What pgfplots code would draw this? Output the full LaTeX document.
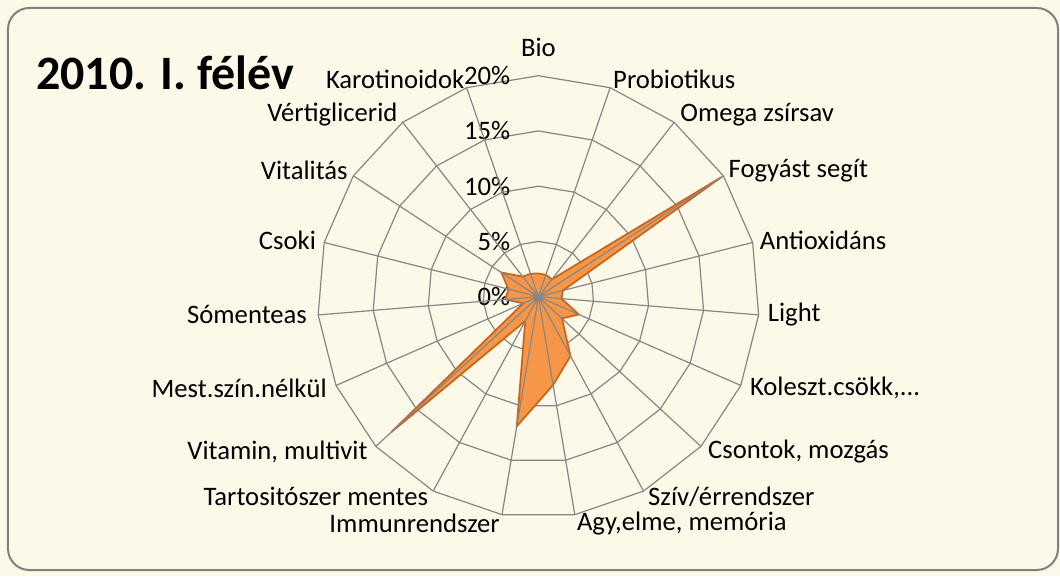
\documentclass[border=0pt]{standalone}
\usepackage{pgfplots}
\pgfplotsset{compat=1.18}
\usepackage{pgfplotstable}
\usepgfplotslibrary{polar}
\usetikzlibrary{backgrounds}
\usepackage{fontspec}
\setmainfont{Carlito}
\definecolor{bgc}{RGB}{253,249,233}
\definecolor{framec}{RGB}{128,128,128}
\definecolor{gridc}{RGB}{134,134,134}
\definecolor{serfill}{RGB}{247,150,70}
\definecolor{serdraw}{RGB}{200,100,30}
\newcommand\lab{\fontsize{20}{24}\selectfont}

% angle (degrees, counter-clockwise from east) and share in percent
\pgfplotstableread{
angle value
90 2.1
71.053 2.1
52.105 2.0
33.158 19.8
14.211 2.3
-4.737 2.1
-23.684 4.0
-42.632 2.9
-61.579 6.1
-80.526 8.1
-99.474 11.9
-118.421 2.5
-137.368 18.1
-156.316 1.5
-175.263 3.0
-194.211 2.8
-213.158 4.0
-232.105 2.3
-251.053 2.2
-270 2.1
}\datatable

\pgfplotstableread{
angle r5 r10 r15 r20
90 5 10 15 20
71.053 5 10 15 20
52.105 5 10 15 20
33.158 5 10 15 20
14.211 5 10 15 20
-4.737 5 10 15 20
-23.684 5 10 15 20
-42.632 5 10 15 20
-61.579 5 10 15 20
-80.526 5 10 15 20
-99.474 5 10 15 20
-118.421 5 10 15 20
-137.368 5 10 15 20
-156.316 5 10 15 20
-175.263 5 10 15 20
-194.211 5 10 15 20
-213.158 5 10 15 20
-232.105 5 10 15 20
-251.053 5 10 15 20
-270 5 10 15 20
}\ringtable

\begin{document}
\begin{tikzpicture}
\begin{polaraxis}[
  at={(0,0)},
  scale only axis,
  width=331.5pt, height=331.5pt,
  xmin=-270, xmax=90, ymin=0, ymax=20,
  xtick={90,71.053,52.105,33.158,14.211,-4.737,-23.684,-42.632,-61.579,-80.526,-99.474,-118.421,-137.368,-156.316,-175.263,-194.211,-213.158,-232.105,-251.053},
  xticklabels={},
  ytick={0,5,10,15,20},
  yticklabels={},
  xmajorgrids, ymajorgrids=false,
  major grid style={gridc, line width=0.9pt},
  axis line style={draw=none},
  major tick length=0pt,
  axis on top,
  clip=false,
]
\addplot[gridc, line width=0.9pt, no marks] table[x=angle, y=r5] {\ringtable};
\addplot[gridc, line width=0.9pt, no marks] table[x=angle, y=r10] {\ringtable};
\addplot[gridc, line width=0.9pt, no marks] table[x=angle, y=r15] {\ringtable};
\addplot[gridc, line width=0.9pt, no marks] table[x=angle, y=r20] {\ringtable};

% radial scale labels
\foreach \v in {0,5,10,15,20}{
  \edef\tmp{\noexpand\node[anchor=east, inner sep=0pt, xshift=-21pt, font=\noexpand\lab] at (axis cs:90,\v) {\v\noexpand\%};}
  \tmp
}

\addplot[fill=serfill, draw=serdraw, line width=1.3pt, line join=miter, no marks] table[x=angle, y=value] {\datatable};

\coordinate (C) at (axis cs:0,0);

% category labels
\node[anchor=center, inner sep=0pt, yshift=21.5pt, font=\lab] at (axis cs:90,20) {Bio};
\node[anchor=west, inner sep=0pt, xshift=2.1pt, yshift=6.5pt, font=\lab] at (axis cs:71.053,20) {Probiotikus};
\node[anchor=west, inner sep=0pt, xshift=4.5pt, yshift=5.5pt, font=\lab] at (axis cs:52.105,20) {Omega zsírsav};
\node[anchor=west, inner sep=0pt, xshift=3.75pt, yshift=4.2pt, font=\lab] at (axis cs:33.158,20) {Fogyást segít};
\node[anchor=west, inner sep=0pt, xshift=5.25pt, yshift=1.8pt, font=\lab] at (axis cs:14.211,20) {Antioxidáns};
\node[anchor=west, inner sep=0pt, xshift=6.75pt, yshift=0pt, font=\lab] at (axis cs:-4.737,20) {Light};
\node[anchor=west, inner sep=0pt, xshift=6.75pt, yshift=-1.9pt, font=\lab] at (axis cs:-23.684,20) {Koleszt.csökk,...};
\node[anchor=west, inner sep=0pt, xshift=5.25pt, yshift=-4.2pt, font=\lab] at (axis cs:-42.632,20) {Csontok, mozgás};
\node[anchor=west, inner sep=0pt, xshift=3.3pt, yshift=-4.0pt, font=\lab] at (axis cs:-61.579,20) {Szív/érrendszer};
\node[anchor=west, inner sep=0pt, xshift=1.5pt, yshift=-6.6pt, font=\lab] at (axis cs:-80.526,20) {Agy,elme, memória};
\node[anchor=east, inner sep=0pt, xshift=-1.5pt, yshift=-6.6pt, font=\lab] at (axis cs:-99.474,20) {Immunrendszer};
\node[anchor=east, inner sep=0pt, xshift=-3.75pt, yshift=-4.0pt, font=\lab] at (axis cs:-118.421,20) {Tartositószer mentes};
\node[anchor=east, inner sep=0pt, xshift=-6pt, yshift=-4.2pt, font=\lab] at (axis cs:-137.368,20) {Vitamin, multivit};
\node[anchor=east, inner sep=0pt, xshift=-6.75pt, yshift=-1.9pt, font=\lab] at (axis cs:-156.316,20) {Mest.szín.nélkül};
\node[anchor=east, inner sep=0pt, xshift=-8.25pt, yshift=0pt, font=\lab] at (axis cs:-175.263,20) {Sómenteas};
\node[anchor=east, inner sep=0pt, xshift=-6pt, yshift=1.8pt, font=\lab] at (axis cs:-194.211,20) {Csoki};
\node[anchor=east, inner sep=0pt, xshift=-4.1pt, yshift=4.2pt, font=\lab] at (axis cs:-213.158,20) {Vitalitás};
\node[anchor=east, inner sep=0pt, xshift=-3.75pt, yshift=5.5pt, font=\lab] at (axis cs:-232.105,20) {Vértiglicerid};
\node[anchor=east, inner sep=0pt, xshift=-1.5pt, yshift=6.5pt, font=\lab] at (axis cs:-251.053,20) {Karotinoidok};
\end{polaraxis}

\begin{scope}[shift={(C)}, x=0.75pt, y=0.75pt]
  \node[anchor=west, inner sep=0pt, font=\fontsize{36}{40}\selectfont\bfseries] at (-502.4,224.2) {2010. I. félév};
  \begin{scope}[on background layer]
    \fill[bgc] (-538.4,-279.3) rectangle (521.6,296.7);
    \filldraw[fill=bgc, draw=framec, line width=1.5pt, rounded corners=16pt] (-530.4,-273.3) rectangle (519.6,288.7);
  \end{scope}
  \pgfresetboundingbox
  \useasboundingbox (-538.4,-279.3) rectangle (521.6,296.7);
\end{scope}
\end{tikzpicture}
\end{document}
